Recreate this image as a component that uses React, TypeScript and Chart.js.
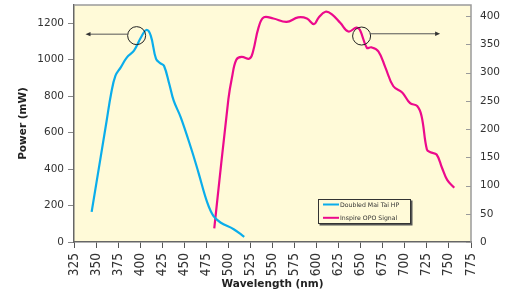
import React, { useEffect, useRef } from "react";
import { Chart, registerables } from "chart.js";

Chart.register(...registerables);

// ---- data ----
const seriesLabels = ["Doubled Mai Tai HP", "Inspire OPO Signal"];

const blueWavelength = [345, 362, 367, 372, 378, 385, 393, 401, 407, 412, 418, 423, 427, 433, 438, 446, 458, 466, 476, 483, 491, 506, 518];
const bluePower = [165, 665, 812, 912, 958, 1013, 1050, 1123, 1163, 1132, 1004, 980, 967, 867, 775, 684, 510, 382, 217, 143, 107, 70, 28];

const pinkWavelength = [484, 500, 504, 509, 515, 524, 528, 534, 540, 551, 566, 579, 589, 597, 602, 610, 617, 627, 636, 645, 649, 657, 662, 670, 678, 687, 697, 706, 714, 719, 725, 729, 736, 742, 748, 756];
const pinkPower = [24, 253, 291, 323, 328, 325, 338, 379, 398, 396, 390, 398, 396, 386, 397, 408, 404, 388, 373, 380, 376, 344, 345, 338, 309, 276, 265, 246, 241, 223, 164, 159, 155, 132, 110, 96];

const xRange = [325, 775];
const xStep = 25;
const leftRange = [0, 1300];
const leftStep = 200;
const rightRange = [0, 420];
const rightStep = 50;

// marker circles with arrows pointing to the axis each curve belongs to
const markerAxis = ["yL", "yR"];
const markerX = [396, 651];
const markerY = [1132, 365];
const arrowToX = [338, 740];
const arrowY = [1140, 369];

const TICK_FONT = { family: '"DejaVu Sans", sans-serif', size: 10.5 };
const XTICK_FONT = { family: '"Liberation Sans Narrow", "DejaVu Sans Condensed", sans-serif', size: 13.5 };
const TITLE_FONT = { family: '"DejaVu Sans", sans-serif', size: 10.5, weight: "bold" as const };

const plain = (v: any) => String(v);

const decorPlugin = {
  id: "decor",
  beforeDraw(chart: any) {
    const { ctx, chartArea: a } = chart;
    ctx.save();
    ctx.fillStyle = "#FFFAD8";
    ctx.fillRect(a.left, a.top, a.right - a.left, a.bottom - a.top);
    ctx.restore();
  },
  afterDraw(chart: any) {
    const { ctx, chartArea: a } = chart;
    ctx.save();
    // top & right frame
    ctx.strokeStyle = "#9a9a9a";
    ctx.lineWidth = 1.5;
    ctx.beginPath();
    ctx.moveTo(a.left, a.top);
    ctx.lineTo(a.right, a.top);
    ctx.lineTo(a.right, a.bottom);
    ctx.stroke();
    // right inner ticks
    const yR = chart.scales.yR;
    ctx.strokeStyle = "#9a9a9a";
    ctx.lineWidth = 1;
    yR.ticks.forEach((t: any) => {
      const y = Math.round(yR.getPixelForValue(t.value)) + 0.5;
      ctx.beginPath();
      ctx.moveTo(a.right - 5, y);
      ctx.lineTo(a.right, y);
      ctx.stroke();
    });
    // markers
    const xs = chart.scales.x;
    for (let i = 0; i < markerX.length; i++) {
      const ys = chart.scales[markerAxis[i]];
      const cx = xs.getPixelForValue(markerX[i]);
      const cy = ys.getPixelForValue(markerY[i]);
      const r = 9;
      ctx.strokeStyle = "#222";
      ctx.lineWidth = 1;
      ctx.beginPath();
      ctx.arc(cx, cy, r, 0, Math.PI * 2);
      ctx.stroke();
      const ay = ys.getPixelForValue(arrowY[i]);
      const ex = xs.getPixelForValue(arrowToX[i]);
      const dir = ex < cx ? -1 : 1;
      const dx = Math.sqrt(Math.max(r * r - (ay - cy) * (ay - cy), 0));
      const sx = cx + dir * dx;
      ctx.strokeStyle = "#555";
      ctx.beginPath();
      ctx.moveTo(sx, ay);
      ctx.lineTo(ex - dir * 4, ay);
      ctx.stroke();
      ctx.fillStyle = "#333";
      ctx.beginPath();
      ctx.moveTo(ex, ay);
      ctx.lineTo(ex - dir * 5, ay - 2.2);
      ctx.lineTo(ex - dir * 5, ay + 2.2);
      ctx.closePath();
      ctx.fill();
    }
    // legend box
    const bx = a.left + 244;
    const by = a.top + 194;
    const bw = 93;
    const bh = 25;
    ctx.fillStyle = "#555";
    ctx.fillRect(bx + 1.5, by + 1.5, bw, bh);
    ctx.fillStyle = "#FFFAD8";
    ctx.fillRect(bx, by, bw, bh);
    ctx.strokeStyle = "#333";
    ctx.lineWidth = 1;
    ctx.strokeRect(bx + 0.5, by + 0.5, bw - 1, bh - 1);
    chart.data.datasets.forEach((ds: any, i: number) => {
      const ly = by + 5.5 + i * 13.3;
      ctx.strokeStyle = ds.borderColor;
      ctx.lineWidth = 2;
      ctx.beginPath();
      ctx.moveTo(bx + 5, ly);
      ctx.lineTo(bx + 21, ly);
      ctx.stroke();
      ctx.fillStyle = "#333";
      ctx.font = '6.2px "DejaVu Sans", sans-serif';
      ctx.textBaseline = "middle";
      ctx.textAlign = "left";
      ctx.fillText(ds.label, bx + 22, ly + 0.5);
    });
    ctx.restore();
  },
};

export default function App() {
  const ref = useRef<HTMLCanvasElement | null>(null);
  useEffect(() => {
    document.body.style.margin = "0";
    document.body.style.background = "#ffffff";
    const canvas = ref.current;
    if (!canvas) return;
    const chart = new Chart(canvas, {
      type: "line",
      data: {
        datasets: [
          {
            label: seriesLabels[0],
            data: blueWavelength.map((x, i) => ({ x, y: bluePower[i] })),
            borderColor: "#0AADEB",
            borderWidth: 2.2,
            yAxisID: "yL",
            tension: 0.4,
            pointRadius: 0,
            fill: false,
          },
          {
            label: seriesLabels[1],
            data: pinkWavelength.map((x, i) => ({ x, y: pinkPower[i] })),
            borderColor: "#EC0A8C",
            borderWidth: 2.2,
            yAxisID: "yR",
            tension: 0.4,
            pointRadius: 0,
            fill: false,
          },
        ],
      },
      options: {
        animation: false,
        responsive: false,
        layout: { padding: { top: 5, left: 0, right: 0, bottom: 0 } },
        plugins: { legend: { display: false }, tooltip: { enabled: false } },
        scales: {
          x: {
            type: "linear",
            min: xRange[0],
            max: xRange[1],
            ticks: {
              stepSize: xStep,
              autoSkip: false,
              minRotation: 90,
              maxRotation: 90,
              padding: 5,
              font: XTICK_FONT,
              color: "#333",
              callback: plain,
            },
            grid: { drawOnChartArea: false, tickLength: 6, color: "#555" },
            border: { color: "#666", width: 1.5 },
            title: {
              display: true,
              text: "Wavelength (nm)",
              font: TITLE_FONT,
              color: "#222",
              padding: { top: 0, bottom: 4 },
            },
            afterFit(s: any) {
              s.height = 53;
              s.paddingLeft = 0;
              s.paddingRight = 0;
            },
          },
          yL: {
            type: "linear",
            position: "left",
            min: leftRange[0],
            max: leftRange[1],
            ticks: { stepSize: leftStep, includeBounds: false, padding: 4, font: TICK_FONT, color: "#333", callback: plain },
            grid: { drawOnChartArea: false, tickLength: 6, color: "#888" },
            border: { color: "#666", width: 1.5 },
            title: {
              display: true,
              text: "Power (mW)",
              font: TITLE_FONT,
              color: "#222",
              padding: { top: 17, bottom: 0 },
            },
            afterFit(s: any) {
              s.width = 74;
              s.paddingTop = 0;
              s.paddingBottom = 0;
            },
          },
          yR: {
            type: "linear",
            position: "right",
            min: rightRange[0],
            max: rightRange[1],
            ticks: { stepSize: rightStep, includeBounds: false, padding: 9, font: TICK_FONT, color: "#333", callback: plain },
            grid: { drawOnChartArea: false, drawTicks: false },
            border: { display: false },
            afterFit(s: any) {
              s.width = 43;
              s.paddingTop = 0;
              s.paddingBottom = 0;
            },
          },
        },
      } as any,
      plugins: [decorPlugin],
    });
    return () => chart.destroy();
  }, []);
  return (
    <div style={{ width: 514, height: 295 }}>
      <canvas ref={ref} width={514} height={295} style={{ display: "block" }} />
    </div>
  );
}
